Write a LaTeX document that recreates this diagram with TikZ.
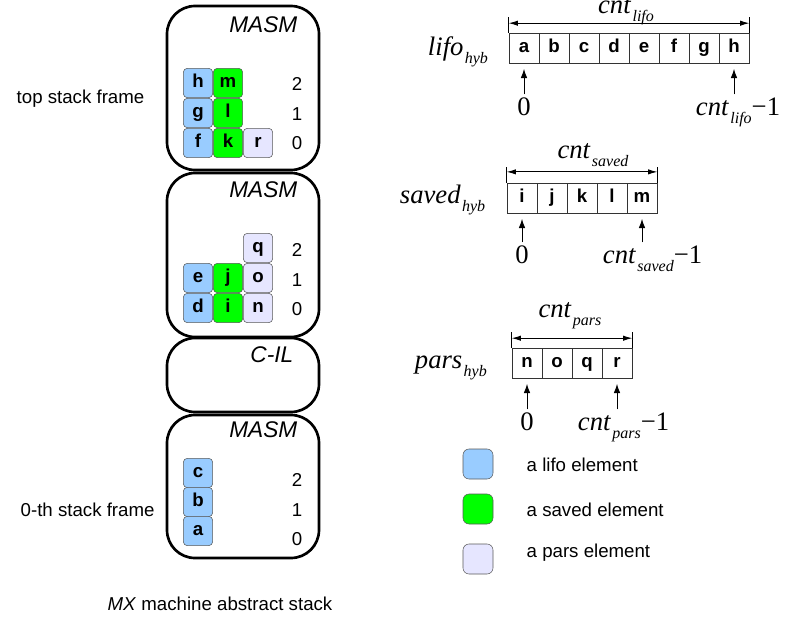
\documentclass[tikz,border=0pt]{standalone}
\usepackage{fontspec}
\setmainfont{Liberation Sans}
\newfontfamily\tms{Liberation Serif}
\usetikzlibrary{arrows.meta}

\definecolor{lifoblue}{HTML}{99CCFF}
\definecolor{savedgreen}{HTML}{00FF00}
\definecolor{parsviolet}{HTML}{E6E6FF}

\newcommand{\sublab}[2]{\textit{#1}\kern1pt\raisebox{-6pt}{\fontsize{12}{12}\selectfont\textit{#2}}}

\tikzset{
	frame/.style={draw, line width=2pt, rounded corners=21pt},
	framelabel/.style={anchor=east, font=\fontsize{17}{19}\selectfont\itshape},
	elem/.style={draw=black!65, rounded corners=3pt, minimum size=22pt, inner sep=0pt, text height=10pt, text depth=3pt, font=\fontsize{14}{16}\selectfont\bfseries},
	lifoel/.style={elem, fill=lifoblue},
	savedel/.style={elem, fill=savedgreen},
	parsel/.style={elem, fill=parsviolet},
	legbox/.style={draw=black!65, rounded corners=4.5pt, minimum size=22.5pt, inner sep=0pt},
	cell/.style={draw=black!80, line width=0.7pt, minimum size=22.5pt, inner sep=0pt, text height=10pt, text depth=3pt, font=\fontsize{14}{16}\selectfont\bfseries},
	txt/.style={font=\fontsize{14}{16}\selectfont},
	idx/.style={inner sep=2pt, font=\tms\fontsize{20}{22}\selectfont},
	idxarrow/.style={-{Latex[length=7pt,width=5pt]}, line width=0.75pt, shorten >=4pt},
	dimarrow/.style={{Latex[length=7pt,width=4pt]}-{Latex[length=7pt,width=4pt]}, line width=0.75pt}
}

\begin{document}
\begin{tikzpicture}[x=0.75pt, y=-0.75pt]
		\useasboundingbox (0,0) rectangle (786,622);
		
		%stack frames
		\draw[frame] (167,6) rectangle (319,170);
		\draw[frame] (167,173) rectangle (319,337);
		\draw[frame] (167,338) rectangle (319,412);
		\draw[frame] (167,415) rectangle (319,558);
		\node[framelabel] (masmtop) at (302,25) {MASM};
		\node[framelabel] (masmmid) at (302,190) {MASM};
		\node[framelabel] (cil) at (298,355) {C-IL};
		\node[framelabel] (masmbot) at (302,430) {MASM};
		
		\node[txt, anchor=west] (topframe) at (12,99) {top stack frame};
		\node[txt, anchor=west] (zeroframe) at (16,510) {0-th stack frame};
		\node[txt] (caption) at (220,604) {\textit{MX} machine abstract stack};
		
		%top frame
		\node[lifoel] (h) at (198,83) {h};
		\node[lifoel] (g) at (198,113) {g};
		\node[lifoel] (f) at (198,143) {f};
		\node[savedel] (m) at (228,83) {m};
		\node[savedel] (l) at (228,113) {l};
		\node[savedel] (k) at (228,143) {k};
		\node[parsel] (r) at (258,143) {r};
		
		%middle frame
		\node[lifoel] (e) at (198,278) {e};
		\node[lifoel] (d) at (198,308) {d};
		\node[savedel] (j) at (228,278) {j};
		\node[savedel] (i) at (228,308) {i};
		\node[parsel] (q) at (258,248) {q};
		\node[parsel] (o) at (258,278) {o};
		\node[parsel] (n) at (258,308) {n};
		
		%bottom frame
		\node[lifoel] (c) at (198,473) {c};
		\node[lifoel] (b) at (198,502) {b};
		\node[lifoel] (a) at (198,531) {a};
		
		\foreach \y [count=\n from 0] in {143, 114, 84}{
			\node[txt] (ntop\n) at (297,\y) {\n};
		}
		\foreach \y [count=\n from 0] in {309, 280, 250}{
			\node[txt] (nmid\n) at (297,\y) {\n};
		}
		\foreach \y [count=\n from 0] in {539, 510, 480}{
			\node[txt] (nbot\n) at (297,\y) {\n};
		}
		
		%lifo array
		\foreach \l [count=\i] in {a,b,c,d,e,f,g,h}{
			\node[cell] (lifo\i) at (494+30*\i,48) {\l};
		}
		\node[idx, anchor=base west] (lifohyb) at (425,55) {\sublab{lifo}{hyb}};
		\node[idx, anchor=base] (lifocnt) at (626,13) {\sublab{cnt}{lifo}};
		\draw[line width=0.75pt] (lifo1.north west) -- ++(0,-16);
		\draw[line width=0.75pt] (lifo8.north east) -- ++(0,-16);
		\draw[dimarrow] ([yshift=7pt]lifo1.north west) -- ([yshift=7pt]lifo8.north east);
		\node[idx, anchor=base] (lifofirst) at (524,115) {0};
		\node[idx, anchor=base west] (lifolast) at (693,115) {\sublab{cnt}{lifo}−1};
		\draw[idxarrow] (lifofirst) -- (lifo1);
		\draw[idxarrow] (lifo8.south |- lifolast.north) -- (lifo8.south);
		
		%saved array
		\foreach \l [count=\i] in {i,j,k,l,m}{
			\node[cell] (saved\i) at (492+30*\i,198) {\l};
		}
		\node[idx, anchor=base west] (savedhyb) at (397,203) {\sublab{saved}{hyb}};
		\node[idx, anchor=base] (savedcnt) at (593,158) {\sublab{cnt}{saved}};
		\draw[line width=0.75pt] (saved1.north west) -- ++(0,-16);
		\draw[line width=0.75pt] (saved5.north east) -- ++(0,-16);
		\draw[dimarrow] ([yshift=8pt]saved1.north west) -- ([yshift=8pt]saved5.north east);
		\node[idx, anchor=base] (savedfirst) at (522,263) {0};
		\node[idx, anchor=base west] (savedlast) at (600,263) {\sublab{cnt}{saved}−1};
		\draw[idxarrow] (savedfirst) -- (saved1);
		\draw[idxarrow] (saved5.south |- savedlast.north) -- (saved5.south);
		
		%pars array
		\foreach \l [count=\i] in {n,o,q,r}{
			\node[cell] (pars\i) at (497+30*\i,363) {\l};
		}
		\node[idx, anchor=base west] (parshyb) at (412,368) {\sublab{pars}{hyb}};
		\node[idx, anchor=base] (parscnt) at (570,317) {\sublab{cnt}{pars}};
		\draw[line width=0.75pt] (pars1.north west) -- ++(0,-16);
		\draw[line width=0.75pt] (pars4.north east) -- ++(0,-16);
		\draw[dimarrow] ([yshift=7pt]pars1.north west) -- ([yshift=7pt]pars4.north east);
		\node[idx, anchor=base] (parsfirst) at (527,430) {0};
		\node[idx, anchor=base west] (parslast) at (575,430) {\sublab{cnt}{pars}−1};
		\draw[idxarrow] (parsfirst) -- (pars1);
		\draw[idxarrow] (pars4.south |- parslast.north) -- (pars4.south);
		
		%legend
		\node[legbox, fill=lifoblue] (leglifo) at (478,464) {};
		\node[legbox, fill=savedgreen] (legsaved) at (478,509) {};
		\node[legbox, fill=parsviolet] (legpars) at (478,559) {};
		\node[txt, anchor=west] at (522,465) {a lifo element};
		\node[txt, anchor=west] at (522,510) {a saved element};
		\node[txt, anchor=west] at (522,553) {a pars element};
		\end{tikzpicture}
\end{document}
